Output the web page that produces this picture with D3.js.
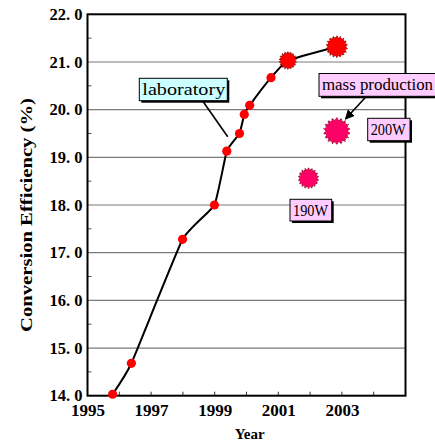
<!DOCTYPE html>
<html><head><meta charset="utf-8">
<script src="https://cdn.jsdelivr.net/npm/d3@7"></script>
<style>html,body{margin:0;padding:0;background:#fff;}svg{display:block;}</style>
</head><body>
<svg id="c" width="435" height="443"></svg>
<script>
// Data
const labYears  = [1995.79, 1996.38, 1997.99, 1998.99, 1999.38, 1999.78, 1999.93, 2000.10, 2000.77, 2001.30, 2002.84];
const labValues = [14.03, 14.68, 17.28, 18.00, 19.13, 19.50, 19.90, 20.09, 20.67, 21.03, 21.32];
const labStarIndex = [9, 10];
const massYears  = [2002.84, 2001.95];
const massValues = [19.55, 18.56];
const massLabels = ["200W", "190W"];
const yTicks = [14, 15, 16, 17, 18, 19, 20, 21, 22];
const xTickLabels = [1995, 1997, 1999, 2001, 2003];
const xMinorTicks = [1996, 1997, 1998, 1999, 2000, 2001, 2002, 2003, 2004];
const yMinorTicks = [14.5, 15.5, 16.5, 17.5, 18.5, 19.5, 20.5, 21.5];

const svg = d3.select("#c");
const x = d3.scaleLinear().domain([1995, 2005]).range([87.5, 405.5]);
const y = d3.scaleLinear().domain([14, 22]).range([395.7, 14.3]);

const serif = "'Liberation Serif','DejaVu Serif',serif";
const mono = "'Liberation Mono','DejaVu Sans Mono',monospace";

// gridlines
svg.append("g").selectAll("line").data(yTicks.slice(1, -1)).join("line")
  .attr("x1", x(1995)).attr("x2", x(2005))
  .attr("y1", d => y(d)).attr("y2", d => y(d))
  .attr("stroke", "#7a7a7a").attr("stroke-width", 1.2);

// y axis
const yAxis = d3.axisLeft(y).tickValues(yTicks).tickSize(0).tickPadding(5)
  .tickFormat(d => d3.format(".1f")(d).replace(".", ". "));
const gy = svg.append("g").attr("transform", `translate(${x(1995)},0)`).call(yAxis);
gy.select(".domain").remove();
gy.selectAll("text").attr("font-family", serif).attr("font-weight", "bold")
  .attr("font-size", 16.5).attr("fill", "#000");

// y minor ticks (inside)
svg.append("g").selectAll("line").data(yMinorTicks).join("line")
  .attr("x1", x(1995)).attr("x2", x(1995) + 4)
  .attr("y1", d => y(d)).attr("y2", d => y(d))
  .attr("stroke", "#555").attr("stroke-width", 1);

// x axis
const xAxis = d3.axisBottom(x).tickValues(xTickLabels).tickSize(0).tickPadding(8)
  .tickFormat(d3.format("d"));
const gx = svg.append("g").attr("transform", `translate(0,${y(14)})`).call(xAxis);
gx.select(".domain").remove();
gx.selectAll("text").attr("font-family", serif).attr("font-weight", "bold")
  .attr("font-size", 17).attr("fill", "#000");

svg.append("g").selectAll("line").data(xMinorTicks).join("line")
  .attr("x1", d => x(d)).attr("x2", d => x(d))
  .attr("y1", y(14)).attr("y2", y(14) - 4)
  .attr("stroke", "#333").attr("stroke-width", 1);

// frame
svg.append("rect").attr("x", x(1995)).attr("y", y(22))
  .attr("width", x(2005) - x(1995)).attr("height", y(14) - y(22))
  .attr("fill", "none").attr("stroke", "#000").attr("stroke-width", 2);

// axis titles
svg.append("text").attr("x", x(2000.1)).attr("y", 439)
  .attr("text-anchor", "middle").attr("font-family", serif).attr("font-weight", "bold")
  .attr("font-size", 15).text("Year");
svg.append("text").attr("transform", "translate(32,215) rotate(-90)")
  .attr("text-anchor", "middle").attr("font-family", serif).attr("font-weight", "bold")
  .attr("font-size", 16).attr("textLength", 234).attr("lengthAdjust", "spacingAndGlyphs")
  .text("Conversion Efficiency (%)");

// lab line
const line = d3.line().x((d, i) => x(labYears[i])).y(d => y(d)).curve(d3.curveCardinal.tension(0.6));
svg.append("path").datum(labValues).attr("d", line)
  .attr("fill", "none").attr("stroke", "#000").attr("stroke-width", 2);

// star generator
function starPath(r) {
  const n = 18, pts = [];
  for (let i = 0; i < n * 2; i++) pts.push([i * Math.PI / n, i % 2 ? r * 0.8 : r]);
  return d3.lineRadial().curve(d3.curveLinearClosed)(pts);
}

// lab circles
svg.append("g").selectAll("circle")
  .data(labValues.map((v, i) => i).filter(i => !labStarIndex.includes(i))).join("circle")
  .attr("cx", i => x(labYears[i])).attr("cy", i => y(labValues[i])).attr("r", 4.6)
  .attr("fill", "#ff0000");
const labStarR = [9, 11];
svg.append("g").selectAll("path").data(labStarIndex).join("path")
  .attr("transform", i => `translate(${x(labYears[i])},${y(labValues[i])})`)
  .attr("d", (i, k) => starPath(labStarR[k]))
  .attr("fill", "#ff0000").attr("stroke", "#400").attr("stroke-width", 0.7).attr("stroke-dasharray", "1.5,1");

// mass production stars
const massR = [13.5, 10.5];
svg.append("g").selectAll("path").data(massValues).join("path")
  .attr("transform", (d, i) => `translate(${x(massYears[i])},${y(d)})`)
  .attr("d", (d, i) => starPath(massR[i]))
  .attr("fill", "#ff0066").attr("stroke", "#500").attr("stroke-width", 0.7).attr("stroke-dasharray", "1.5,1");

// callout boxes
function box(bx, by, w, h, fill, txt, fs, tl) {
  const g = svg.append("g");
  g.append("rect").attr("x", bx + 2).attr("y", by + 2).attr("width", w).attr("height", h).attr("fill", "#000");
  g.append("rect").attr("x", bx).attr("y", by).attr("width", w).attr("height", h)
    .attr("fill", fill).attr("stroke", "#000").attr("stroke-width", 1);
  const t = g.append("text").attr("x", bx + 3).attr("y", by + h / 2 + fs * 0.34)
    .attr("font-family", serif).attr("font-size", fs).attr("fill", "#000").text(txt);
  if (tl) t.attr("textLength", tl).attr("lengthAdjust", "spacingAndGlyphs");
}

// leader lines
svg.append("line").attr("x1", 202.7).attr("y1", 101).attr("x2", 227.7).attr("y2", 136.7)
  .attr("stroke", "#000").attr("stroke-width", 1.6);
svg.append("defs").append("marker").attr("id", "ah").attr("viewBox", "0 0 10 10")
  .attr("refX", 9).attr("refY", 5).attr("markerWidth", 6).attr("markerHeight", 6)
  .attr("orient", "auto").append("path").attr("d", "M0,0L10,5L0,10z").attr("fill", "#000");
svg.append("line").attr("x1", 366).attr("y1", 96.7).attr("x2", 345.5).attr("y2", 119)
  .attr("stroke", "#000").attr("stroke-width", 1.6).attr("marker-end", "url(#ah)");

box(139.3, 78.3, 88, 22.4, "#ccffff", "laboratory", 16, 83);
box(319, 73.5, 125, 22.8, "#ffccff", "mass production", 16, 111);
box(367.7, 118.3, 42.3, 22.4, "#ffccff", massLabels[0], 16, 35);
box(290, 199.3, 41.7, 21.7, "#ffccff", massLabels[1], 16, 35);
</script>
</body></html>
